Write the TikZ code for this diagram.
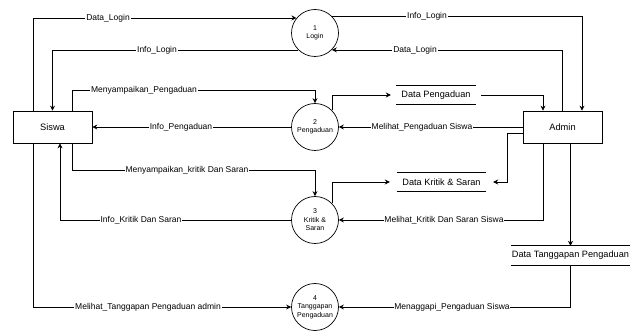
\documentclass[tikz,border=0pt]{standalone}
\usepackage{fontspec}
\setmainfont{Liberation Sans}
\usetikzlibrary{arrows.meta}
\begin{document}
\begin{tikzpicture}[x=1pt,y=-1pt,
  ent/.style={draw, line width=0.7pt, minimum width=79pt, minimum height=32pt, inner sep=0pt, font=\fontsize{9.3}{11}\selectfont},
  proc/.style={draw, circle, line width=0.7pt, minimum size=47pt, inner sep=0pt, align=center, font=\fontsize{7}{8.5}\selectfont},
  store/.style={inner sep=0pt, font=\fontsize{9.2}{11}\selectfont},
  flow/.style={line width=0.7pt, -{Stealth[length=5pt,width=5pt]}},
  lbl/.style={fill=white, inner sep=0.8pt, font=\fontsize{8.5}{10}\selectfont}]
\useasboundingbox (0,0) rectangle (638,331);
% entities
\node[ent] (siswa) at (52.5,127) {Siswa};
\node[ent] (admin) at (562.5,127) {Admin};
% processes
\node[proc] (c1) at (315,33) {1\\Login};
\node[proc] (c2) at (315,127) {2\\Pengaduan};
\node[proc] (c3) at (315,220) {3\\Kritik \&\\Saran};
\node[proc] (c4) at (315,307) {4\\Tanggapan\\Pengaduan};
% data stores
\node[store, minimum width=90pt, minimum height=18pt] (ds1) at (436,95) {Data Pengaduan};
\node[store, minimum width=103pt, minimum height=18pt] (ds2) at (441.5,182) {Data Kritik \& Saran};
\node[store, minimum width=119pt, minimum height=19pt] (ds3) at (570.5,255.5) {Data Tanggapan Pengaduan};
\foreach \s/\i in {ds1/5,ds2/7,ds3/0} {
  \draw[line width=0.7pt] ([xshift=\i pt]\s.north west) -- ([xshift=-\i pt]\s.north east);
  \draw[line width=0.7pt] ([xshift=\i pt]\s.south west) -- ([xshift=-\i pt]\s.south east);
}
% helper coordinates
\coordinate (xa) at (33,0);
\coordinate (p3) at (72,90);
\coordinate (p5) at (72,170);
\coordinate (xq) at (60,0);
\coordinate (xr) at (582,0);
\coordinate (xm) at (543,0);
\coordinate (k) at (507,182);
% flows
\draw[flow] (siswa.north -| xa) |- (c1.141);
\draw[flow] (c1.225) -| (siswa.north);
\draw[flow] (siswa.north -| p3) -- (p3) -| (c2.north);
\draw[flow] (c2.west) -- (siswa.east);
\draw[flow] (siswa.south -| p5) -- (p5) -| (c3.north);
\draw[flow] (c3.west) -| (siswa.south -| xq);
\draw[flow] (siswa.south -| xa) |- (c4.west);
\draw[flow] (c1.45) -| (admin.north -| xr);
\draw[flow] (admin.north) |- (c1.315);
\draw[flow] (c2.45) |- (ds1.west);
\draw[flow] (ds1.east) -| (admin.north -| xm);
\draw[flow] (admin.west) -- (c2.east);
\draw[flow] ([yshift=-6pt]admin.west) -| (k) -- (ds2.east);
\draw[flow] (c3.45) |- (ds2.west);
\draw[flow] (admin.south -| xm) |- (c3.east);
\draw[flow] (admin.south -| ds3.north) -- (ds3.north);
\draw[flow] (ds3.south) |- (c4.east);
% labels
\node[lbl] (t1) at (108,18) {Data\_Login};
\node[lbl] (t2) at (157,50) {Info\_Login};
\node[lbl] (t3) at (144,90) {Menyampaikan\_Pengaduan};
\node[lbl] (t4) at (181,127) {Info\_Pengaduan};
\node[lbl] (t5) at (187,170) {Menyampaikan\_kritik Dan Saran};
\node[lbl] (t6) at (141,220) {Info\_Kritik Dan Saran};
\node[lbl] (t7) at (148,307) {Melihat\_Tanggapan Pengaduan admin};
\node[lbl] (t8) at (427,16) {Info\_Login};
\node[lbl] (t9) at (415,50) {Data\_Login};
\node[lbl] (t10) at (422,127) {Melihat\_Pengaduan Siswa};
\node[lbl] (t11) at (444,220) {Melihat\_Kritik Dan Saran Siswa};
\node[lbl] (t12) at (452,307) {Menaggapi\_Pengaduan Siswa};
\end{tikzpicture}
\end{document}
